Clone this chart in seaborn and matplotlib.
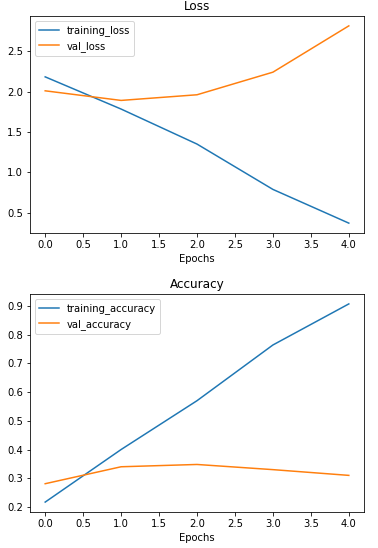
import matplotlib
matplotlib.use("Agg")
import matplotlib.pyplot as plt
import seaborn as sns
import pandas as pd

epochs = [0, 1, 2, 3, 4]
training_loss = [2.185, 1.786, 1.352, 0.790, 0.372]
val_loss = [2.012, 1.893, 1.963, 2.243, 2.817]
training_accuracy = [0.217, 0.400, 0.570, 0.764, 0.907]
val_accuracy = [0.281, 0.340, 0.348, 0.330, 0.310]

plt.rcParams['font.family'] = ['DejaVu Sans']
plt.rcParams['font.size'] = 10

fig = plt.figure(figsize=(378/72, 548/72), dpi=72)
ax1 = fig.add_axes([30/378, 1-233/548, 334/378, 217/548])
ax2 = fig.add_axes([30/378, 1-512/548, 334/378, 218/548])

df_loss = pd.DataFrame({"Epochs": epochs, "training_loss": training_loss, "val_loss": val_loss})
df_acc = pd.DataFrame({"Epochs": epochs, "training_accuracy": training_accuracy, "val_accuracy": val_accuracy})

sns.lineplot(data=df_loss, x="Epochs", y="training_loss", ax=ax1, color="#1f77b4", label="training_loss", linewidth=1.5)
sns.lineplot(data=df_loss, x="Epochs", y="val_loss", ax=ax1, color="#ff7f0e", label="val_loss", linewidth=1.5)
ax1.set_title("Loss")
ax1.set_xlabel("Epochs")
ax1.set_ylabel("")
ax1.legend(loc="upper left")

sns.lineplot(data=df_acc, x="Epochs", y="training_accuracy", ax=ax2, color="#1f77b4", label="training_accuracy", linewidth=1.5)
sns.lineplot(data=df_acc, x="Epochs", y="val_accuracy", ax=ax2, color="#ff7f0e", label="val_accuracy", linewidth=1.5)
ax2.set_title("Accuracy")
ax2.set_xlabel("Epochs")
ax2.set_ylabel("")
ax2.legend(loc="upper left")

for ax in (ax1, ax2):
    ax.set_xticks([0, 0.5, 1, 1.5, 2, 2.5, 3, 3.5, 4])

fig.savefig("out.png", dpi=72)
